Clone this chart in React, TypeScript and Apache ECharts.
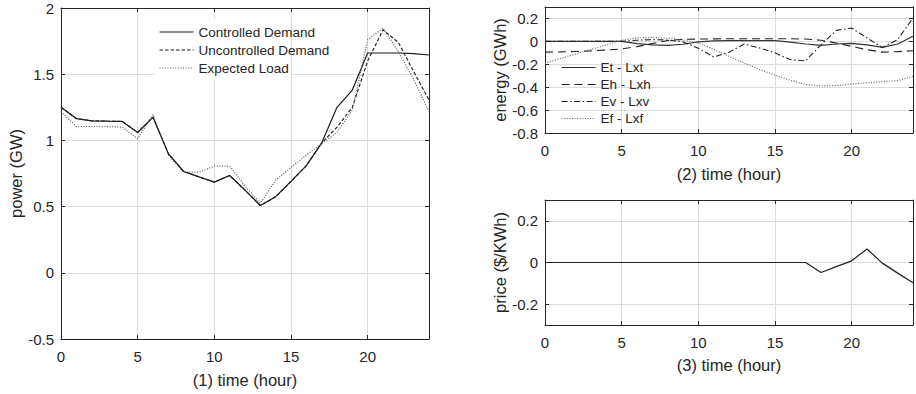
import React, { useEffect, useRef } from 'react';
import * as echarts from 'echarts';

// ---- data ----
const hours = [0, 1, 2, 3, 4, 5, 6, 7, 8, 9, 10, 11, 12, 13, 14, 15, 16, 17, 18, 19, 20, 21, 22, 23, 24];

const controlledDemand = [1.25, 1.165, 1.148, 1.145, 1.143, 1.06, 1.175, 0.9, 0.765, 0.725, 0.685, 0.735, 0.625, 0.508, 0.575, 0.69, 0.81, 0.98, 1.25, 1.38, 1.66, 1.66, 1.66, 1.655, 1.645];
const uncontrolledDemand = [1.25, 1.165, 1.148, 1.145, 1.143, 1.06, 1.175, 0.9, 0.765, 0.725, 0.685, 0.735, 0.625, 0.508, 0.575, 0.69, 0.81, 0.98, 1.1, 1.25, 1.6, 1.835, 1.74, 1.52, 1.305];
const expectedLoad = [1.218, 1.105, 1.105, 1.105, 1.1, 1.012, 1.195, 0.89, 0.76, 0.76, 0.805, 0.805, 0.655, 0.525, 0.7, 0.795, 0.89, 0.975, 1.06, 1.23, 1.76, 1.848, 1.67, 1.46, 1.218];

const etLxt = [0, 0, 0, 0, 0, 0, -0.02, -0.03, -0.035, -0.025, -0.005, 0.005, 0.006, 0.006, 0.006, 0.006, -0.006, -0.023, -0.035, -0.023, -0.018, -0.03, -0.053, -0.023, 0.044];
const ehLxh = [-0.094, -0.092, -0.088, -0.083, -0.076, -0.066, -0.046, -0.02, 0.008, 0.018, 0.02, 0.022, 0.023, 0.023, 0.023, 0.023, 0.023, 0.02, 0.01, -0.015, -0.044, -0.073, -0.094, -0.09, -0.082];
const evLxv = [0, 0, 0, 0, 0, 0, 0.01, 0.015, 0.012, -0.005, -0.06, -0.137, -0.095, -0.023, -0.058, -0.1, -0.16, -0.17, -0.03, 0.096, 0.117, 0.03, -0.053, 0.015, 0.205];
const efLxf = [-0.19, -0.15, -0.11, -0.07, -0.03, 0.01, 0.03, 0.035, 0.028, 0.012, -0.015, -0.07, -0.13, -0.19, -0.245, -0.295, -0.34, -0.375, -0.39, -0.386, -0.372, -0.362, -0.352, -0.343, -0.305];

const price = [0, 0, 0, 0, 0, 0, 0, 0, 0, 0, 0, 0, 0, 0, 0, 0, 0, 0, -0.048, -0.02, 0.008, 0.065, -0.003, -0.051, -0.097];

const priceTicks = [-0.2, 0, 0.2];

const legend1Names = ['Controlled Demand', 'Uncontrolled Demand', 'Expected Load'];
const legend2Names = ['Et - Lxt', 'Eh - Lxh', 'Ev - Lxv', 'Ef - Lxf'];

// ---- styling ----
const FONT = "'Liberation Sans', Arial, Helvetica, sans-serif";
const INK = '#262626';
const GRIDC = '#dcdcdc';

const pairs = (ys: number[]) => hours.map((h, i) => [h, ys[i]]);

function xAxes(gridIndex: number, name: string, nameGap: number) {
  return [
    {
      type: 'value', gridIndex, min: 0, max: 24, interval: 5, position: 'bottom',
      name, nameLocation: 'middle', nameGap,
      nameTextStyle: { fontSize: 16.5, color: INK, fontFamily: FONT },
      axisLine: { show: true, onZero: false, lineStyle: { color: INK, width: 1 } },
      axisTick: { show: true, inside: true, length: 4, lineStyle: { color: INK } },
      axisLabel: { show: true, margin: 10, fontSize: 15, color: INK, fontFamily: FONT, showMaxLabel: false },
      splitLine: { show: true, lineStyle: { color: GRIDC, width: 1 } },
    },
    {
      type: 'value', gridIndex, min: 0, max: 24, interval: 5, position: 'top',
      axisLine: { show: true, onZero: false, lineStyle: { color: INK, width: 1 } },
      axisTick: { show: true, inside: true, length: 4, lineStyle: { color: INK } },
      axisLabel: { show: false },
      splitLine: { show: false },
    },
  ];
}

function yAxes(gridIndex: number, name: string, nameGap: number, extra: any, tickExtra: any = {}) {
  const { labelExtra, ...range } = extra;
  return [
    {
      type: 'value', gridIndex, position: 'left', ...range,
      name, nameLocation: 'middle', nameGap,
      nameTextStyle: { fontSize: 16.5, color: INK, fontFamily: FONT },
      axisLine: { show: true, onZero: false, lineStyle: { color: INK, width: 1 } },
      axisTick: { show: true, inside: true, length: 4, lineStyle: { color: INK }, ...tickExtra },
      axisLabel: { show: true, margin: 7, fontSize: 15, color: INK, fontFamily: FONT, ...(labelExtra || {}) },
      splitLine: { show: true, lineStyle: { color: GRIDC, width: 1 } },
    },
    {
      type: 'value', gridIndex, position: 'right', ...range,
      axisLine: { show: true, onZero: false, lineStyle: { color: INK, width: 1 } },
      axisTick: { show: true, inside: true, length: 4, lineStyle: { color: INK }, ...tickExtra },
      axisLabel: { show: false },
      splitLine: { show: false },
    },
  ];
}

function line(name: string, ys: number[], axis: number, color: string, type: any, width = 1.2) {
  return {
    type: 'line', name, data: pairs(ys), xAxisIndex: axis, yAxisIndex: axis,
    symbol: 'none', showSymbol: false, smooth: false,
    lineStyle: { color, width, type },
    itemStyle: { color },
    silent: true,
  };
}

const legendBase = {
  orient: 'vertical', padding: 0, itemWidth: 34, selectedMode: false,
  textStyle: { fontSize: 13.5, color: INK, fontFamily: FONT },
  itemStyle: { opacity: 0, borderWidth: 0 },
  lineStyle: { width: 1.2 },
  symbolRotate: 0,
};

export default function App() {
  const ref = useRef<HTMLDivElement>(null);
  useEffect(() => {
    if (!ref.current) return;
    const chart = echarts.init(ref.current, undefined, { renderer: 'svg' });
    const y1 = yAxes(0, 'power (GW)', 36, { min: -0.5, max: 2, interval: 0.5 });
    const y2 = yAxes(1, 'energy (GWh)', 34, { min: -0.8, max: 0.3, interval: 0.2, labelExtra: { showMaxLabel: false } });
    const y3 = yAxes(2, 'price ($/KWh)', 35, { min: -0.3, max: 0.3, labelExtra: { customValues: priceTicks } }, { customValues: priceTicks });
    const option: any = {
      animation: false,
      backgroundColor: '#ffffff',
      textStyle: { fontFamily: FONT, color: INK },
      grid: [
        { left: 61, top: 8, width: 368, height: 331, show: false },
        { left: 545, top: 7, width: 368, height: 126, show: false },
        { left: 545, top: 200, width: 368, height: 125, show: false },
      ],
      xAxis: [
        ...xAxes(0, '(1) time (hour)', 32),
        ...xAxes(1, '(2) time (hour)', 32),
        ...xAxes(2, '(3) time (hour)', 31),
      ],
      yAxis: [...y1, ...y2, ...y3],
      legend: [
        { ...legendBase, left: 159, top: 25, itemHeight: 14, itemGap: 4, data: legend1Names },
        { ...legendBase, left: 561, top: 60.5, itemHeight: 13.5, itemGap: 3, data: legend2Names },
      ],
      graphic: [
        { type: 'rect', z: 1, silent: true, shape: { x: 155, y: 19, width: 135, height: 61 }, style: { fill: '#ffffff' } },
      ],
      series: [
        line(legend1Names[0], controlledDemand, 0, '#1a1a1a', 'solid', 1.2),
        line(legend1Names[1], uncontrolledDemand, 0, '#1a1a1a', [3.5, 2], 1.1),
        line(legend1Names[2], expectedLoad, 0, '#555555', [1, 1.6], 1.2),
        line(legend2Names[0], etLxt, 2, '#333333', 'solid', 1.2),
        line(legend2Names[1], ehLxh, 2, '#222222', [8, 5], 1.1),
        line(legend2Names[2], evLxv, 2, '#222222', [6, 2.5, 1.5, 2.5], 1.1),
        line(legend2Names[3], efLxf, 2, '#666666', [1, 1.6], 1.2),
        line('price', price, 4, '#222222', 'solid', 1.2),
      ],
    };
    chart.setOption(option);
    return () => chart.dispose();
  }, []);
  return (
    <div
      ref={ref}
      style={{ position: 'fixed', left: 0, top: 0, width: 916, height: 394, background: '#fff' }}
    />
  );
}
